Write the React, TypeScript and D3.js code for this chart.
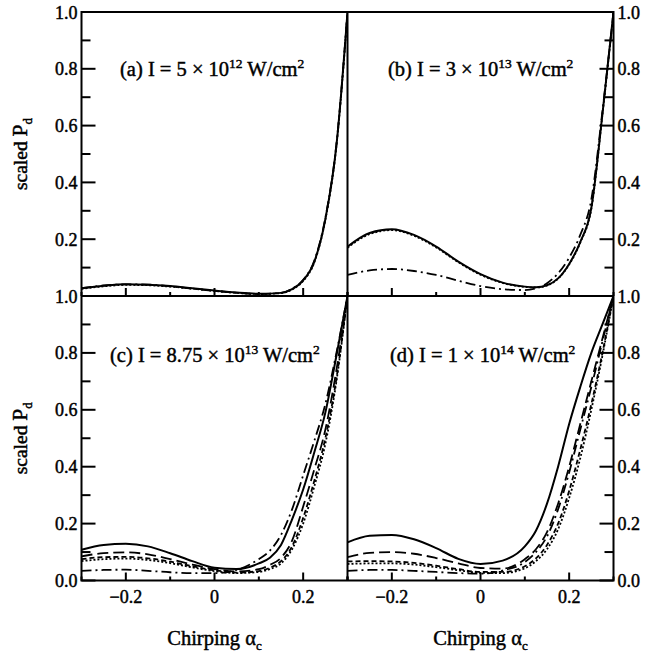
import React from "react";
import * as d3 from "d3";

// ---------- data ----------
const alphaA = [-0.3, -0.25, -0.2, -0.15, -0.1, -0.05, 0, 0.05, 0.1, 0.15, 0.175, 0.2, 0.225, 0.25, 0.275, 0.3];
const aSolid = [0.027, 0.036, 0.041, 0.04, 0.035, 0.027, 0.019, 0.012, 0.008, 0.011, 0.024, 0.055, 0.12, 0.27, 0.53, 1.0];
const aDotted = [0.025, 0.034, 0.039, 0.038, 0.033, 0.026, 0.018, 0.011, 0.007, 0.01, 0.023, 0.053, 0.118, 0.268, 0.528, 1.0];
const aDashDot = [0.028, 0.037, 0.041, 0.04, 0.034, 0.026, 0.018, 0.011, 0.007, 0.011, 0.025, 0.057, 0.124, 0.275, 0.535, 1.0];

const alphaGrid = [-0.3, -0.25, -0.2, -0.15, -0.1, -0.05, 0, 0.05, 0.1, 0.125, 0.15, 0.175, 0.2, 0.225, 0.25, 0.275, 0.3];

const bSolid = [0.174, 0.222, 0.235, 0.215, 0.174, 0.121, 0.077, 0.047, 0.033, 0.031, 0.038, 0.062, 0.113, 0.19, 0.31, 0.64, 1.0];
const bDotted = [0.17, 0.218, 0.232, 0.212, 0.171, 0.119, 0.075, 0.046, 0.032, 0.03, 0.037, 0.061, 0.111, 0.188, 0.308, 0.638, 1.0];
const bDashDot = [0.074, 0.09, 0.095, 0.088, 0.074, 0.054, 0.035, 0.024, 0.021, 0.027, 0.045, 0.08, 0.135, 0.215, 0.34, 0.65, 1.0];

const cSolid = [0.108, 0.125, 0.129, 0.12, 0.096, 0.068, 0.045, 0.04, 0.06, 0.08, 0.125, 0.215, 0.32, 0.45, 0.59, 0.79, 1.0];
const cLongDash = [0.085, 0.096, 0.099, 0.092, 0.075, 0.056, 0.04, 0.032, 0.04, 0.055, 0.08, 0.14, 0.26, 0.39, 0.53, 0.74, 1.0];
const cDash = [0.075, 0.082, 0.083, 0.078, 0.066, 0.05, 0.036, 0.028, 0.033, 0.045, 0.068, 0.12, 0.22, 0.35, 0.5, 0.71, 1.0];
const cDotted = [0.068, 0.075, 0.077, 0.072, 0.061, 0.046, 0.033, 0.026, 0.03, 0.04, 0.06, 0.11, 0.2, 0.33, 0.48, 0.7, 1.0];
const cDashDot = [0.034, 0.037, 0.038, 0.034, 0.029, 0.026, 0.026, 0.037, 0.075, 0.105, 0.16, 0.25, 0.37, 0.49, 0.62, 0.8, 1.0];

const dSolid = [0.134, 0.157, 0.16, 0.145, 0.114, 0.076, 0.058, 0.07, 0.12, 0.175, 0.27, 0.4, 0.55, 0.68, 0.8, 0.9, 1.0];
const dLongDash = [0.082, 0.097, 0.1, 0.094, 0.079, 0.06, 0.044, 0.042, 0.075, 0.11, 0.17, 0.27, 0.4, 0.55, 0.7, 0.85, 1.0];
const dDash = [0.067, 0.068, 0.067, 0.062, 0.052, 0.04, 0.03, 0.03, 0.05, 0.078, 0.125, 0.2, 0.315, 0.46, 0.62, 0.8, 1.0];
const dDotted = [0.058, 0.06, 0.06, 0.056, 0.047, 0.036, 0.027, 0.026, 0.043, 0.068, 0.11, 0.18, 0.29, 0.43, 0.6, 0.79, 1.0];
const dDashDot = [0.034, 0.037, 0.037, 0.034, 0.03, 0.026, 0.024, 0.035, 0.065, 0.1, 0.155, 0.25, 0.38, 0.53, 0.68, 0.84, 1.0];

const yMinorTicks = [0, 0.1, 0.2, 0.3, 0.4, 0.5, 0.6, 0.7, 0.8, 0.9, 1.0];
const yMajorTicks = [0, 0.2, 0.4, 0.6, 0.8, 1.0];
const yLabelsTop = ["1.0", "0.8", "0.6", "0.4", "0.2"];
const yLabelsTopVals = [1.0, 0.8, 0.6, 0.4, 0.2];
const yLabelsBottom = ["1.0", "0.8", "0.6", "0.4", "0.2", "0.0"];
const yLabelsBottomVals = [1.0, 0.8, 0.6, 0.4, 0.2, 0.0];
const xMinorTicks = [-0.3, -0.2, -0.1, 0, 0.1, 0.2, 0.3];
const xMajorTicks = [-0.2, 0, 0.2];
const xLabels = ["\u22120.2", "0", "0.2"];

// ---------- layout ----------
const X0 = 81.5, XM = 347.5, X1 = 613.5;
const Y0 = 12, YM = 296, Y1 = 580.5;
const FONT = "'Liberation Serif', 'Times New Roman', serif";
const TXT = { fill: "#000", stroke: "#000", strokeWidth: 0.45 };

const DASH: Record<string, string | undefined> = {
  solid: undefined,
  longdash: "11,5",
  dash: "5,3",
  dotted: "2,2",
  dashdot: "10,4,2,4",
};

type Series = { xs: number[]; ys: number[]; style: string };

const panels = [
  {
    id: "a", left: X0, right: XM, top: Y0, bottom: YM, side: "left", bottomRow: false,
    series: [
      { xs: alphaA, ys: aDashDot, style: "dashdot" },
      { xs: alphaA, ys: aDotted, style: "dotted" },
      { xs: alphaA, ys: aSolid, style: "solid" },
    ] as Series[],
    label: { pre: "(a) I = 5 \u00d7 10", exp: "12", lx: 120, ly: 76 },
  },
  {
    id: "b", left: XM, right: X1, top: Y0, bottom: YM, side: "right", bottomRow: false,
    series: [
      { xs: alphaGrid, ys: bDashDot, style: "dashdot" },
      { xs: alphaGrid, ys: bDotted, style: "dotted" },
      { xs: alphaGrid, ys: bSolid, style: "solid" },
    ] as Series[],
    label: { pre: "(b) I = 3 \u00d7 10", exp: "13", lx: 388, ly: 76 },
  },
  {
    id: "c", left: X0, right: XM, top: YM, bottom: Y1, side: "left", bottomRow: true,
    series: [
      { xs: alphaGrid, ys: cDashDot, style: "dashdot" },
      { xs: alphaGrid, ys: cDotted, style: "dotted" },
      { xs: alphaGrid, ys: cDash, style: "dash" },
      { xs: alphaGrid, ys: cLongDash, style: "longdash" },
      { xs: alphaGrid, ys: cSolid, style: "solid" },
    ] as Series[],
    label: { pre: "(c) I = 8.75 \u00d7 10", exp: "13", lx: 110, ly: 362 },
  },
  {
    id: "d", left: XM, right: X1, top: YM, bottom: Y1, side: "right", bottomRow: true,
    series: [
      { xs: alphaGrid, ys: dDashDot, style: "dashdot" },
      { xs: alphaGrid, ys: dDotted, style: "dotted" },
      { xs: alphaGrid, ys: dDash, style: "dash" },
      { xs: alphaGrid, ys: dLongDash, style: "longdash" },
      { xs: alphaGrid, ys: dSolid, style: "solid" },
    ] as Series[],
    label: { pre: "(d) I = 1 \u00d7 10", exp: "14", lx: 390, ly: 362 },
  },
];

function Panel({ p }: { p: (typeof panels)[number] }) {
  const x = d3.scaleLinear().domain([-0.3, 0.3]).range([p.left, p.right]);
  const y = d3.scaleLinear().domain([0, 1]).range([p.bottom, p.top]);
  const line = d3
    .line<[number, number]>()
    .x((d) => x(d[0]))
    .y((d) => y(d[1]))
    .curve(d3.curveMonotoneX);
  const clipId = `clip-${p.id}`;
  const axisX = p.side === "left" ? p.left : p.right;
  const dir = p.side === "left" ? 1 : -1;
  const labelVals = p.bottomRow ? yLabelsBottomVals : yLabelsTopVals;
  const labelTxt = p.bottomRow ? yLabelsBottom : yLabelsTop;
  return (
    <g>
      <defs>
        <clipPath id={clipId}>
          <rect x={p.left} y={p.top} width={p.right - p.left} height={p.bottom - p.top} />
        </clipPath>
      </defs>
      <g clipPath={`url(#${clipId})`}>
        {p.series.map((s, i) => (
          <path
            key={i}
            d={line(s.xs.map((v, j) => [v, s.ys[j]] as [number, number])) || ""}
            fill="none"
            stroke="#000"
            strokeWidth={s.style === "solid" ? 2 : 1.8}
            strokeDasharray={DASH[s.style]}
          />
        ))}
      </g>
      {yMinorTicks.map((v, i) => {
        const major = yMajorTicks.some((m) => Math.abs(m - v) < 1e-9);
        const len = major ? 14 : 9;
        return (
          <line key={"yt" + i} x1={axisX} x2={axisX + dir * len} y1={y(v)} y2={y(v)} stroke="#000" strokeWidth={2} />
        );
      })}
      {xMinorTicks.map((v, i) => {
        const major = xMajorTicks.some((m) => Math.abs(m - v) < 1e-9);
        const len = major ? 8 : 4;
        return (
          <line key={"xt" + i} x1={x(v)} x2={x(v)} y1={p.bottom} y2={p.bottom - len} stroke="#000" strokeWidth={2} />
        );
      })}
      {labelVals.map((v, i) => (
        <text
          key={"yl" + i}
          x={p.side === "left" ? axisX - 4 : axisX + 4}
          y={y(v) + 6.5}
          textAnchor={p.side === "left" ? "end" : "start"}
          fontSize={18}
          fontFamily={FONT}
          {...TXT}
        >
          {labelTxt[i]}
        </text>
      ))}
      {p.bottomRow &&
        xMajorTicks.map((v, i) => (
          <text key={"xl" + i} x={x(v)} y={603} textAnchor="middle" fontSize={18} fontFamily={FONT} {...TXT}>
            {xLabels[i]}
          </text>
        ))}
      {p.bottomRow && (
        <text x={(p.left + p.right) / 2} y={645} textAnchor="middle" fontSize={20.5} fontFamily={FONT} {...TXT}>
          Chirping {"\u03b1"}
          <tspan fontSize={13} dy={5}>c</tspan>
        </text>
      )}
      <text x={p.label.lx} y={p.label.ly} fontSize={20.5} fontFamily={FONT} {...TXT}>
        {p.label.pre}
        <tspan fontSize={13.5} dy={-8}>{p.label.exp}</tspan>
        <tspan dy={8}> W/cm</tspan>
        <tspan fontSize={13.5} dy={-8}>2</tspan>
      </text>
    </g>
  );
}

export default function App() {
  return (
    <svg
      width={650}
      height={660}
      viewBox="0 0 650 660"
      style={{ position: "absolute", left: 0, top: 0, background: "#fff" }}
    >
      <rect x={0} y={0} width={650} height={660} fill="#fff" />
      {panels.map((p) => (
        <Panel key={p.id} p={p} />
      ))}
      <rect x={X0} y={Y0} width={X1 - X0} height={Y1 - Y0} fill="none" stroke="#000" strokeWidth={2} />
      <line x1={X0} x2={X1} y1={YM} y2={YM} stroke="#000" strokeWidth={2} />
      <line x1={XM} x2={XM} y1={Y0} y2={Y1} stroke="#000" strokeWidth={2} />
      {[(Y0 + YM) / 2, (YM + Y1) / 2].map((cy, i) => (
        <text
          key={"yt" + i}
          transform={`translate(27,${cy}) rotate(-90)`}
          textAnchor="middle"
          fontSize={19.5}
          fontFamily={FONT}
          {...TXT}
        >
          scaled <tspan fontSize={21.5}>P</tspan>
          <tspan fontSize={13} dy={5}>d</tspan>
        </text>
      ))}
    </svg>
  );
}
